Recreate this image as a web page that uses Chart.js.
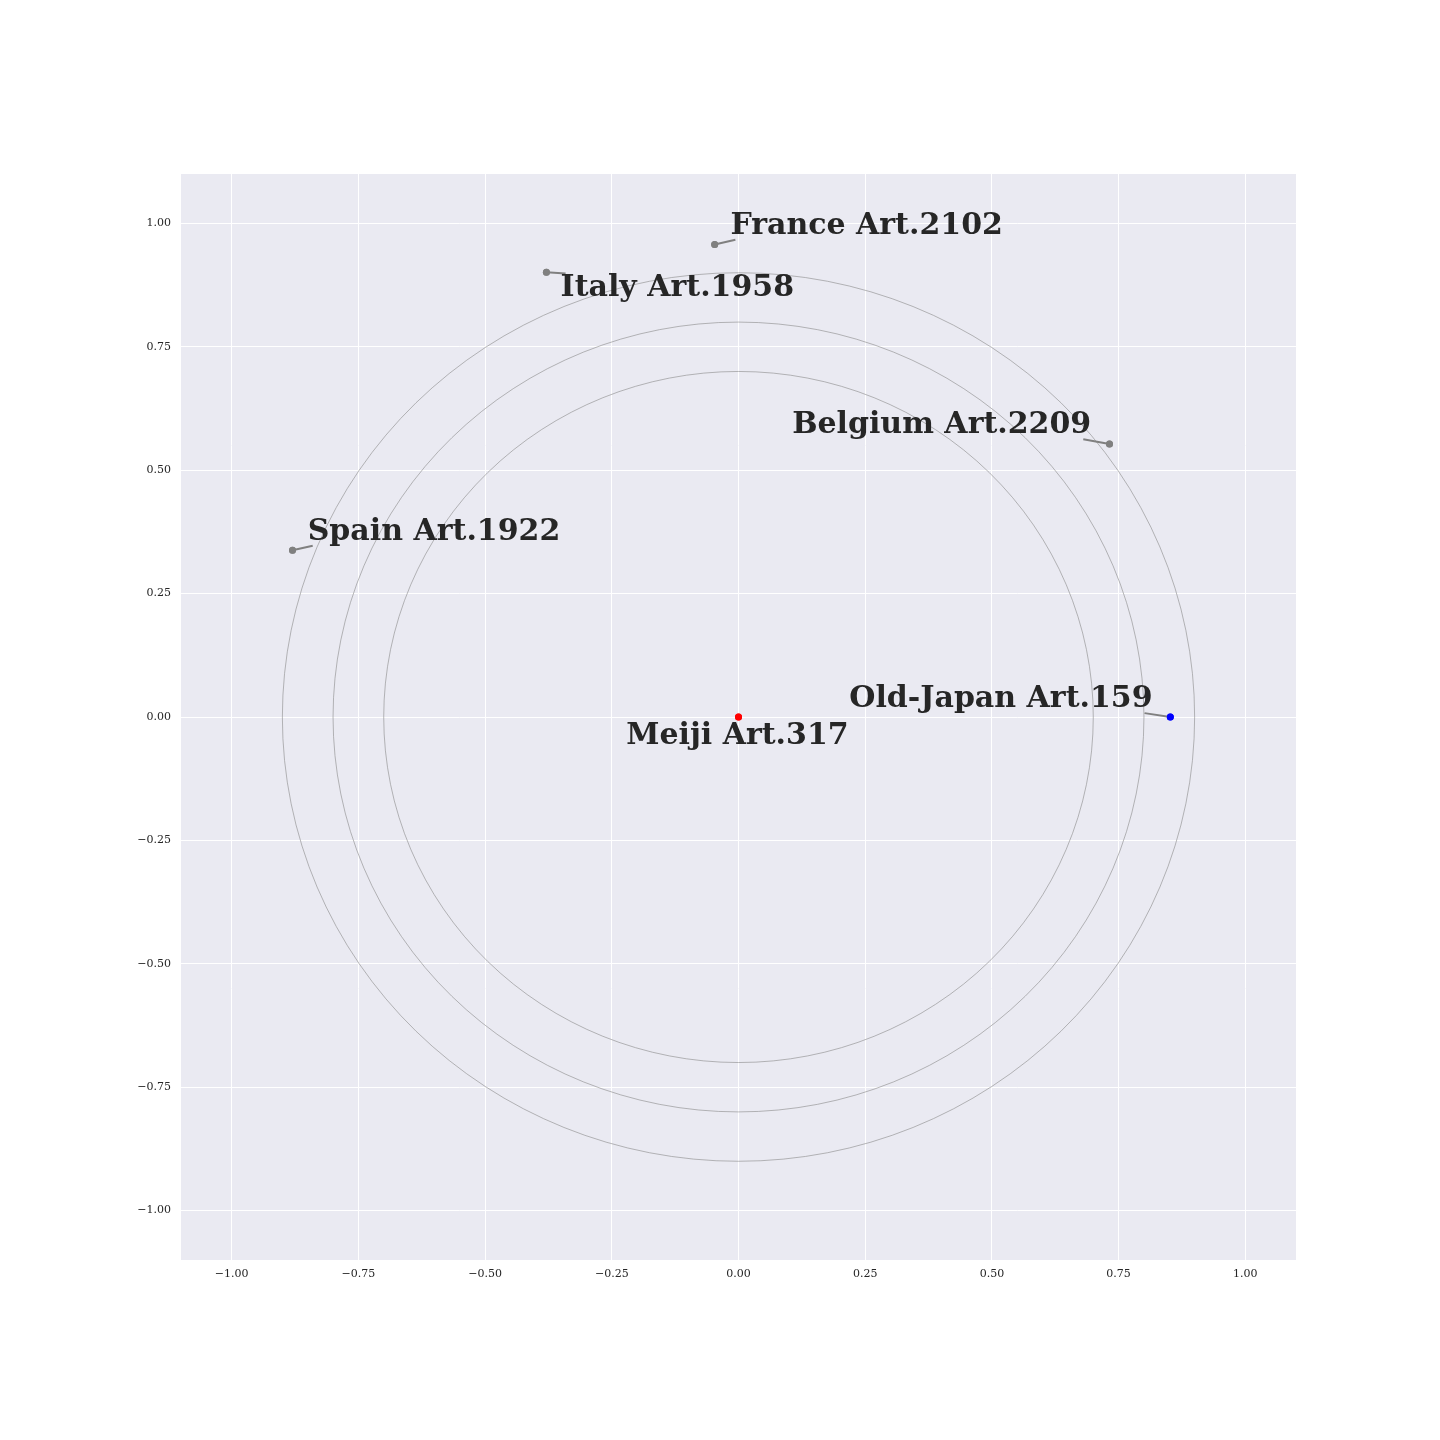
<!DOCTYPE html>
<html>
<head>
<meta charset="utf-8">
<script src="https://cdn.jsdelivr.net/npm/chart.js@4/dist/chart.umd.min.js"></script>
<style>
  html, body { margin: 0; padding: 0; background: #ffffff; }
  #wrap { width: 1440px; height: 1440px; }
</style>
</head>
<body>
<div id="wrap"><canvas id="c" width="1440" height="1440"></canvas></div>
<script>
// ---- data ----
const names = ["Meiji", "Old-Japan", "France", "Italy", "Belgium", "Spain"];
const artCounts = [317, 159, 2102, 1958, 2209, 1922];
const xValues = [0.0, 0.852, -0.047, -0.379, 0.732, -0.880];
const yValues = [0.0, 0.0, 0.957, 0.901, 0.553, 0.338];
const pointColors = ["#ff0000", "#0000ff", "#808080", "#808080", "#808080", "#808080"];
// label text anchors (data coords, at text baseline)
const labelX = [-0.002, 0.817, -0.016, -0.351, 0.696, -0.850];
const labelY = [-0.054, 0.020, 0.979, 0.852, 0.575, 0.359];
const labelAlign = ["center", "right", "left", "left", "right", "left"];
const circleRadii = [0.7, 0.8, 0.9];
const tickValues = [-1.0, -0.75, -0.5, -0.25, 0.0, 0.25, 0.5, 0.75, 1.0];

const FONT = "'DejaVu Serif', 'Liberation Serif', serif";

const points = xValues.map((x, i) => ({ x: x, y: yValues[i] }));
const labels = names.map((n, i) => n + " Art." + artCounts[i]);

const bgPlugin = {
  id: 'bg',
  beforeDraw(chart) {
    const { ctx, chartArea: a } = chart;
    ctx.save();
    ctx.fillStyle = '#EAEAF2';
    ctx.fillRect(a.left, a.top, a.right - a.left, a.bottom - a.top);
    ctx.restore();
  }
};

const circlePlugin = {
  id: 'circles',
  beforeDatasetsDraw(chart) {
    const { ctx, scales } = chart;
    const xs = scales.x, ys = scales.y;
    const cx = xs.getPixelForValue(0), cy = ys.getPixelForValue(0);
    ctx.save();
    ctx.strokeStyle = '#8a8a8a';
    ctx.lineWidth = 0.6;
    circleRadii.forEach(r => {
      const rx = xs.getPixelForValue(r) - cx;
      const ry = cy - ys.getPixelForValue(r);
      ctx.beginPath();
      ctx.ellipse(cx, cy, rx, ry, 0, 0, Math.PI * 2);
      ctx.stroke();
    });
    ctx.restore();
  }
};

const labelPlugin = {
  id: 'labels',
  afterDatasetsDraw(chart) {
    const { ctx, scales } = chart;
    const xs = scales.x, ys = scales.y;
    ctx.save();
    ctx.font = "bold 30px " + FONT;
    labels.forEach((txt, i) => {
      const px = xs.getPixelForValue(xValues[i]);
      const py = ys.getPixelForValue(yValues[i]);
      const tx = xs.getPixelForValue(labelX[i]);
      const ty = ys.getPixelForValue(labelY[i]);
      const w = ctx.measureText(txt).width;
      let left = tx, right = tx + w;
      if (labelAlign[i] === 'right') { left = tx - w; right = tx; }
      if (labelAlign[i] === 'center') { left = tx - w / 2; right = tx + w / 2; }
      const top = ty - 23, bottom = ty + 6;
      let ex = Math.min(Math.max(px, left), right);
      const ey = Math.min(Math.max(py, top), bottom);
      if (px < left) ex += 5;
      if (px > right) ex -= 8;
      if (Math.hypot(ex - px, ey - py) > 6) {
        ctx.strokeStyle = '#808080';
        ctx.lineWidth = 2;
        ctx.beginPath();
        ctx.moveTo(px, py);
        ctx.lineTo(ex, ey);
        ctx.stroke();
      }
      ctx.fillStyle = '#262626';
      ctx.textAlign = labelAlign[i];
      ctx.textBaseline = 'alphabetic';
      ctx.fillText(txt, tx, ty);
    });
    // redraw points on top of connector lines
    labels.forEach((txt, i) => {
      const px = xs.getPixelForValue(xValues[i]);
      const py = ys.getPixelForValue(yValues[i]);
      ctx.fillStyle = pointColors[i];
      ctx.beginPath();
      ctx.arc(px, py, 3.5, 0, Math.PI * 2);
      ctx.fill();
    });
    ctx.restore();
  }
};

function fmt(v) {
  return Number(v).toFixed(2).replace('-', '\u2212');
}

new Chart(document.getElementById('c'), {
  type: 'scatter',
  data: {
    datasets: [{
      data: points,
      backgroundColor: pointColors,
      borderWidth: 0,
      pointRadius: 3.5,
      pointHoverRadius: 3.5
    }]
  },
  options: {
    responsive: false,
    animation: false,
    events: [],
    layout: { padding: { left: 0, top: 174, right: 144, bottom: 0 } },
    plugins: { legend: { display: false }, tooltip: { enabled: false } },
    scales: {
      x: {
        type: 'linear',
        min: -1.1, max: 1.1,
        afterBuildTicks(s) { s.ticks = tickValues.map(v => ({ value: v })); },
        afterFit(s) { s.height = 180; },
        grid: { color: '#ffffff', lineWidth: 1, drawTicks: false },
        border: { display: false },
        ticks: { padding: 8, color: '#262626', font: { family: FONT, size: 11 }, callback: v => fmt(v), maxRotation: 0, autoSkip: false }
      },
      y: {
        type: 'linear',
        min: -1.1, max: 1.1,
        afterBuildTicks(s) { s.ticks = tickValues.map(v => ({ value: v })); },
        afterFit(s) { s.width = 181; },
        grid: { color: '#ffffff', lineWidth: 1, drawTicks: false },
        border: { display: false },
        ticks: { padding: 10, color: '#262626', font: { family: FONT, size: 11 }, callback: v => fmt(v), autoSkip: false }
      }
    }
  },
  plugins: [bgPlugin, circlePlugin, labelPlugin]
});
</script>
</body>
</html>
